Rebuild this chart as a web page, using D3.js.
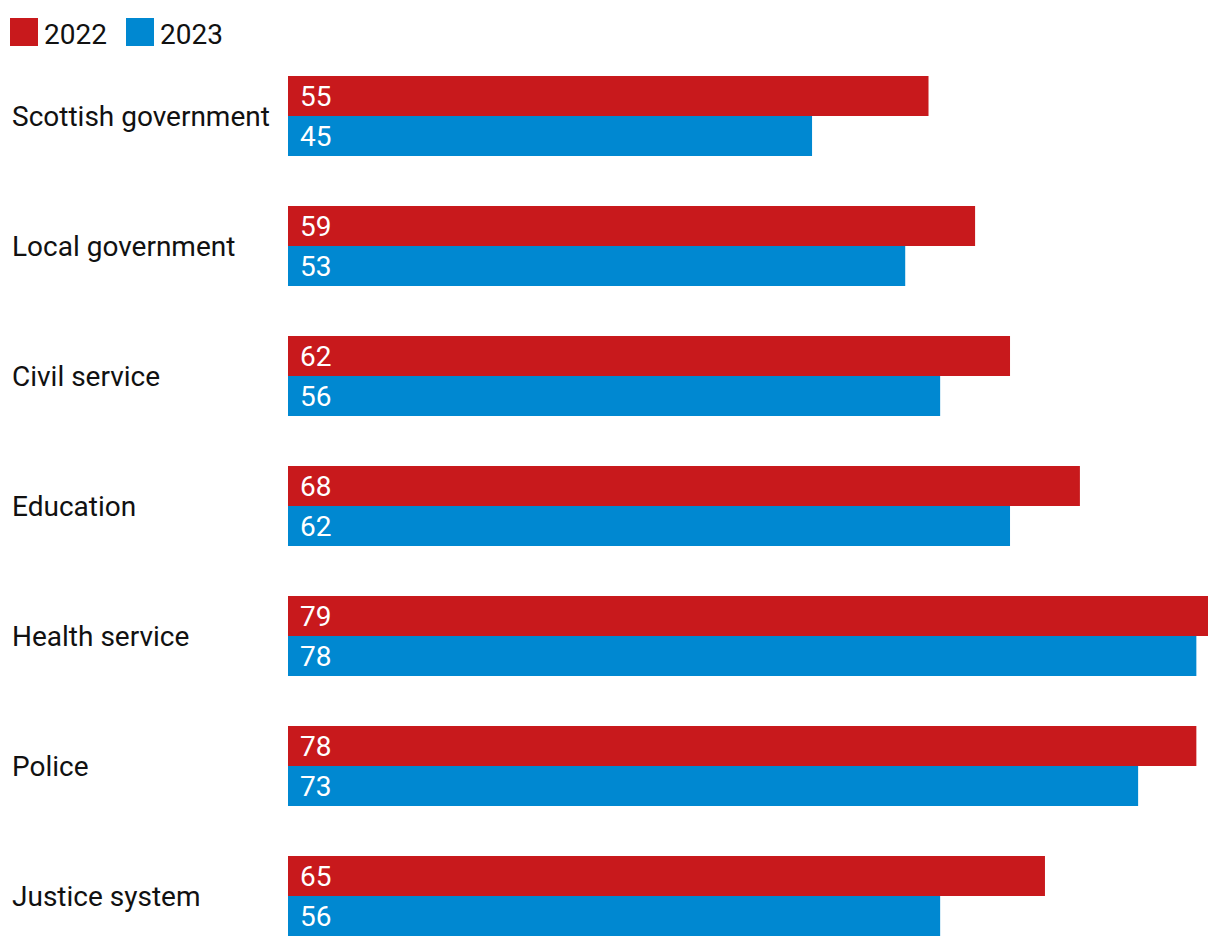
<!DOCTYPE html>
<html>
<head>
<meta charset="utf-8">
<script src="https://cdn.jsdelivr.net/npm/d3@7"></script>
<style>
  body { margin: 0; background: #fff; }
  text { font-family: Roboto, "Noto Sans", sans-serif; }
</style>
</head>
<body>
<script>
const categories = ["Scottish government", "Local government", "Civil service", "Education", "Health service", "Police", "Justice system"];
const series = ["2022", "2023"];
const values2022 = [55, 59, 62, 68, 79, 78, 65];
const values2023 = [45, 53, 56, 62, 78, 73, 56];
const colors = ["#c8191c", "#0088d1"];

const W = 1220, H = 948;
const svg = d3.select("body").append("svg").attr("width", W).attr("height", H);

const x = d3.scaleLinear().domain([0, 79]).range([288, 1208]);
const y = d3.scaleBand().domain(categories).range([51, 961]).paddingInner(50 / 130).paddingOuter(25 / 130);
const sub = d3.scaleBand().domain(series).range([0, y.bandwidth()]);

// legend
let lx = 10;
series.forEach((s, i) => {
    svg.append("rect").attr("x", lx).attr("y", 18).attr("width", 28).attr("height", 28).attr("fill", colors[i]);
    svg.append("text").attr("x", lx + 34).attr("y", 44).attr("font-size", 28).attr("fill", "#111").text(s);
    lx += 116;
});

const rows = categories.map((c, i) => ({ c, v: [values2022[i], values2023[i]] }));

const g = svg.selectAll("g.row").data(rows).enter().append("g")
    .attr("transform", d => `translate(0,${y(d.c)})`);

g.append("text")
    .attr("x", 12)
    .attr("y", y.bandwidth() / 2 + 10)
    .attr("font-size", 28)
    .attr("fill", "#111")
    .text(d => d.c);

series.forEach((s, i) => {
    g.append("rect")
        .attr("x", x(0))
        .attr("y", sub(s))
        .attr("width", d => x(d.v[i]) - x(0))
        .attr("height", sub.bandwidth())
        .attr("fill", colors[i]);
    g.append("text")
        .attr("x", x(0) + 12)
        .attr("y", sub(s) + sub.bandwidth() / 2 + 10)
        .attr("font-size", 28)
        .attr("fill", "#fff")
        .text(d => d.v[i]);
});
</script>
</body>
</html>
